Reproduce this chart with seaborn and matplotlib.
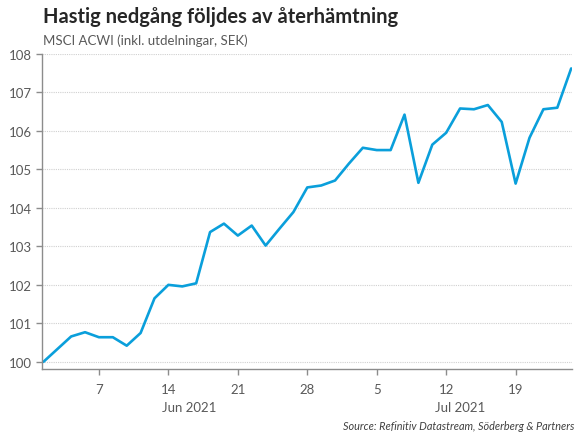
import pandas as pd
import matplotlib.pyplot as plt
import seaborn as sns

# trading days Jun 1 - Jul 23 2021
dates = pd.bdate_range('2021-06-01', '2021-07-23')
values = [100.00, 100.33, 100.66, 100.77, 100.64, 100.64, 100.42, 100.75, 101.65,
          102.00, 101.96, 102.04, 103.37, 103.59, 103.28, 103.54, 103.02, 103.46,
          103.89, 104.53, 104.58, 104.71, 105.15, 105.56, 105.50, 105.50, 106.42,
          104.65, 105.64, 105.95, 106.58, 106.56, 106.67, 106.23, 104.63, 105.82,
          106.56, 106.60, 107.62]
months = ['Jun 2021', 'Jul 2021']
y_ticks = [100, 101, 102, 103, 104, 105, 106, 107, 108]

title = 'Hastig nedgång följdes av återhämtning'
subtitle = 'MSCI ACWI (inkl. utdelningar, SEK)'
source = 'Source: Refinitiv Datastream, Söderberg & Partners'


def run():
    df = pd.DataFrame({'date': dates, 'value': values})
    df['idx'] = range(len(df))

    sns.set_style('white')
    plt.rcParams['font.family'] = ['Lato', 'DejaVu Sans']

    fig = plt.figure(figsize=(5.8, 4.35), dpi=100)
    ax = fig.add_axes([0.0724, 0.149, 0.9136, 0.725])

    sns.lineplot(data=df, x='idx', y='value', ax=ax, color='#0A9FDB', linewidth=1.9)

    ax.set_xlim(-0.1, 38.05)
    ax.set_ylim(99.81, 108)
    ax.set_yticks(y_ticks)
    ax.set_yticklabels([str(t) for t in y_ticks])
    ax.yaxis.grid(True, color='#D0D0D0', linestyle=(0, (1, 1)), linewidth=0.8)

    mondays = df[df['date'].dt.weekday == 0]
    mondays = mondays[mondays['idx'] > 0]
    ax.set_xticks(mondays['idx'])
    ax.set_xticklabels([str(d.day) for d in mondays['date']])

    ax.set_xlabel('')
    ax.set_ylabel('')
    for s in ['top', 'right']:
        ax.spines[s].set_visible(False)
    for s in ['left', 'bottom']:
        ax.spines[s].set_color('#8C8C8C')
        ax.spines[s].set_linewidth(1)
    ax.tick_params(axis='both', colors='#8C8C8C', labelcolor='#595959',
                   labelsize=9.5, length=4, width=1, direction='out', left=True, bottom=True)
    ax.tick_params(axis='x', pad=6)

    for m in months:
        sub = df[df['date'].dt.strftime('%b %Y') == m]
        center = (sub['idx'].min() + sub['idx'].max()) / 2
        ax.text(center, -0.1, m, transform=ax.get_xaxis_transform(),
                ha='center', va='top', fontsize=9.5, color='#595959')

    fig.text(0.074, 0.962, title, fontsize=14.5, fontweight='bold', color='#262626',
             ha='left', va='center')
    fig.text(0.074, 0.906, subtitle, fontsize=9.5, color='#595959', ha='left', va='center')
    fig.text(0.99, 0.006, source, fontsize=7.8, style='italic', color='#404040',
             ha='right', va='bottom')

    fig.savefig('out.png', dpi=100)


if __name__ == '__main__':
    run()
